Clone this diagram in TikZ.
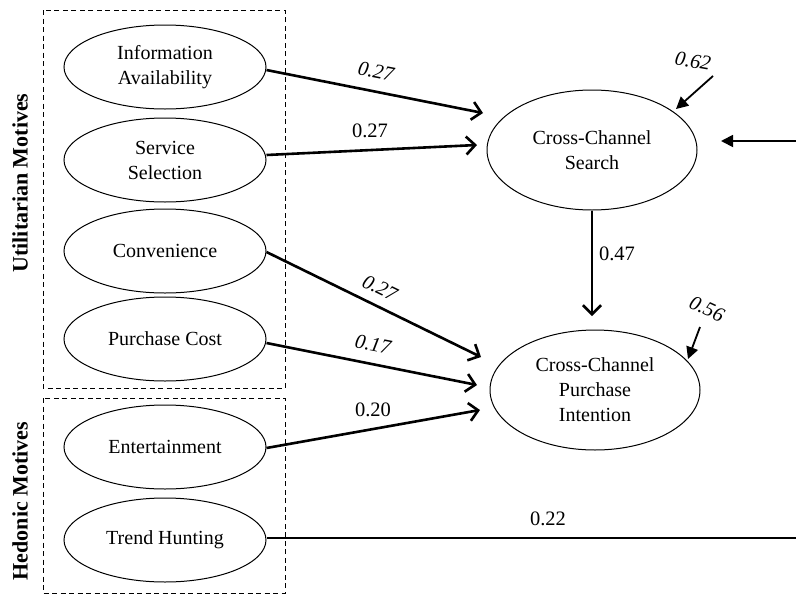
\documentclass[tikz,border=0pt]{standalone}
\usepackage{fontspec}
\setmainfont{Liberation Serif}
\usetikzlibrary{shapes.geometric,arrows.meta}
\begin{document}
\begin{tikzpicture}[x=1pt,y=-1pt,
  construct/.style={ellipse,draw,line width=1pt,inner sep=0pt,
    minimum width=202pt,minimum height=84pt,align=center,
    font=\fontsize{20}{25}\selectfont},
  outcome/.style={construct,minimum width=210pt,minimum height=120pt},
  groupbox/.style={draw,line width=1pt,dash pattern=on 5pt off 3.5pt},
  path/.style={line width=2.6pt,-{Straight Barb[length=9pt,width=18pt,line width=2.6pt]}},
  resid/.style={line width=1.8pt,-{Triangle[length=12pt,width=12pt]}},
  coef/.style={font=\fontsize{20.5}{22}\selectfont,inner sep=1pt},
  icoef/.style={coef,font=\fontsize{20.5}{22}\selectfont\itshape},
  side/.style={font=\fontsize{22}{24}\selectfont\bfseries,rotate=90}]
\useasboundingbox (0,0) rectangle (796,595);

% motive groups
\draw[groupbox] (43,10) rectangle (285,388);
\draw[groupbox] (43,398) rectangle (285,593);
\node[side] (util) at (20,183) {Utilitarian Motives};
\node[side] (hedo) at (20,501) {Hedonic Motives};

% antecedents
\node[construct] (ia) at (165,67) {Information\\Availability};
\node[construct] (ss) at (165,160) {Service\\Selection};
\node[construct] (cv) at (165,251) {Convenience};
\node[construct] (pc) at (165,339) {Purchase Cost};
\node[construct] (en) at (165,447) {Entertainment};
\node[construct] (th) at (165,540) {Trend Hunting};

% outcomes
\node[outcome] (ccs) at (592,150) {Cross-Channel\\Search};
\node[outcome] (cpi) at (595,390) {Cross-Channel\\Purchase\\Intention};

% arrow end points
\coordinate (tIA) at (483,113);
\coordinate (tSS) at (477,145);
\coordinate (tCV) at (481,357);
\coordinate (tPC) at (477,385);
\coordinate (tEN) at (480,410);
\coordinate (tMed) at (592,316);
\coordinate (r1s) at (713,76);
\coordinate (r1e) at (676,109);
\coordinate (r2s) at (700,327);
\coordinate (r2e) at (688,359);
\coordinate (rin) at (796,141);
\coordinate (rout) at (796,538);
\coordinate (rtip) at (721,141);

% structural paths
\draw[path] ([yshift=-3pt]ia.east) -- (tIA);
\draw[path] ([yshift=5pt]ss.east) -- (tSS);
\draw[path] ([yshift=-1pt]cv.east) -- (tCV);
\draw[path] ([yshift=-4pt]pc.east) -- (tPC);
\draw[path] ([yshift=-1pt]en.east) -- (tEN);
\draw[path] (ccs.south) -- (tMed);
\draw[line width=2.6pt] ([yshift=2pt]th.east) -- (rout);
\draw[resid] (rin) -- (rtip);

% residual arrows
\draw[resid] (r1s) -- (r1e);
\draw[resid] (r2s) -- (r2e);

% coefficients
\node[icoef,rotate=-11] (c1) at (376,71) {0.27};
\node[coef] (c2) at (370,131) {0.27};
\node[icoef,rotate=-26] (c3) at (380,288) {0.27};
\node[icoef,rotate=-11] (c4) at (373,344) {0.17};
\node[coef] (c5) at (373,410) {0.20};
\node[coef] (c6) at (617,254) {0.47};
\node[icoef,rotate=-10] (c7) at (693,61) {0.62};
\node[icoef,rotate=-25] (c8) at (707,309) {0.56};
\node[coef] (c9) at (548,519) {0.22};
\end{tikzpicture}
\end{document}
